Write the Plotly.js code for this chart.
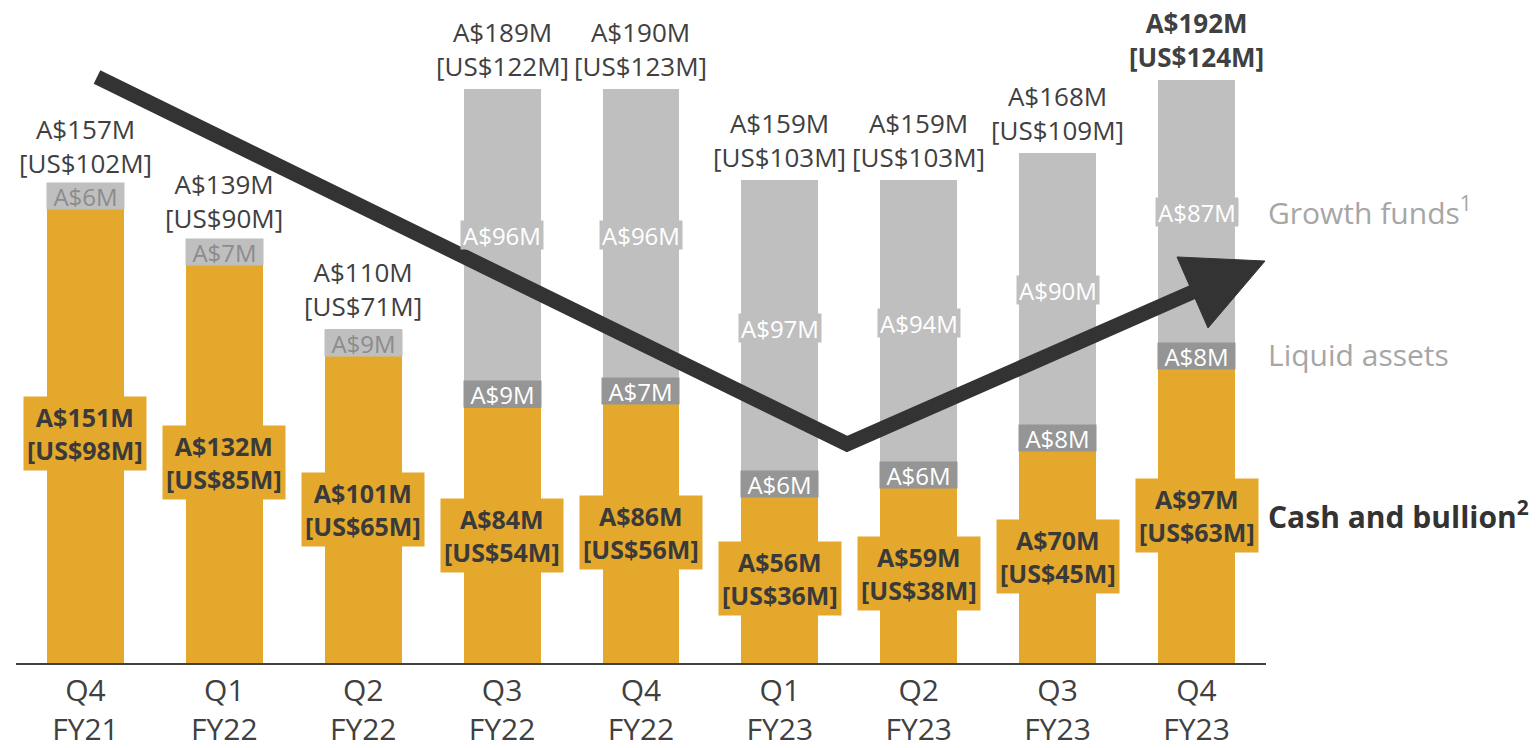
<!DOCTYPE html>
<html>
<head>
<meta charset="utf-8">
<script src="https://cdn.plot.ly/plotly-3.0.1.min.js"></script>
<style>html,body{margin:0;padding:0;background:#fff;}#chart{width:1536px;height:748px;}</style>
</head>
<body>
<div id="chart"></div>
<script>
const categories = ['Q4<br>FY21','Q1<br>FY22','Q2<br>FY22','Q3<br>FY22','Q4<br>FY22','Q1<br>FY23','Q2<br>FY23','Q3<br>FY23','Q4<br>FY23'];
const cash = [151,132,101,84,86,56,59,70,97];
const liquid = [6,7,9,9,7,6,6,8,8];
const growth = [0,0,0,96,96,97,94,90,87];
const totalAUD = [157,139,110,189,190,159,159,168,192];
const totalUSD = [102,90,71,122,123,103,103,109,124];
const cashUSD = [98,85,65,54,56,36,38,45,63];

const GOLD = '#E3A82C', LIGHT = '#BFBFBF', DARK = '#959595', TXT = '#3A3A3A';
const FONT = 'Open Sans, sans-serif';

const liquidColors = liquid.map((v,i) => growth[i] > 0 ? DARK : LIGHT);

const traces = [
  {type:'bar', x:categories, y:cash, marker:{color:GOLD}, name:'Cash and bullion', hoverinfo:'skip'},
  {type:'bar', x:categories, y:liquid, marker:{color:liquidColors}, name:'Liquid assets', hoverinfo:'skip'},
  {type:'bar', x:categories, y:growth, marker:{color:LIGHT}, name:'Growth funds', hoverinfo:'skip'}
];

const ann = [];
categories.forEach((c,i) => {
  const top = cash[i] + liquid[i] + growth[i];
  const last = i === categories.length - 1;
  ann.push({x:c, y:top, xref:'x', yref:'y', yanchor:'bottom', yshift:3, showarrow:false,
    text: last ? '<b>A$'+totalAUD[i]+'M<br>[US$'+totalUSD[i]+'M]</b>' : 'A$'+totalAUD[i]+'M<br>[US$'+totalUSD[i]+'M]',
    font:{family:FONT, size:26, color:'#404040'}});
  ann.push({x:c, y:cash[i]/2, xref:'x', yref:'y', showarrow:false,
    text:'<b>A$'+cash[i]+'M<br>[US$'+cashUSD[i]+'M]</b>', bgcolor:GOLD, borderpad:3,
    font:{family:FONT, size:25, color:TXT}});
  const early = growth[i] === 0;
  ann.push({x:c, y:cash[i]+liquid[i]/2, xref:'x', yref:'y', showarrow:false,
    text:'A$'+liquid[i]+'M', bgcolor: early ? LIGHT : DARK, borderpad:2, width:73, height:22,
    font:{family:FONT, size:24, color: early ? '#8C8C8C' : '#FFFFFF'}});
  if (growth[i] > 0) {
    ann.push({x:c, y:cash[i]+liquid[i]+growth[i]/2, xref:'x', yref:'y', showarrow:false,
      text:'A$'+growth[i]+'M', bgcolor:LIGHT, borderpad:2, height:24,
      font:{family:FONT, size:24, color:'#FFFFFF'}});
  }
});

ann.push({x:1.0, y:0.682, xref:'paper', yref:'paper', xanchor:'left', yanchor:'middle', showarrow:false,
  text:'Growth funds<sup>1</sup>', font:{family:FONT, size:30, color:'#A6A6A6'}});
ann.push({x:1.0, y:0.4646, xref:'paper', yref:'paper', xanchor:'left', yanchor:'middle', showarrow:false,
  text:'Liquid assets', font:{family:FONT, size:30, color:'#A6A6A6'}});
ann.push({x:1.0, y:0.223, xref:'paper', yref:'paper', xanchor:'left', yanchor:'middle', showarrow:false,
  text:'<b>Cash and bullion<sup>2</sup></b>', font:{family:FONT, size:30, color:'#333333'}});

const shapes = [
  {type:'path', xref:'paper', yref:'paper', layer:'above',
   path:'M 0.0648 0.8839 L 0.6648 0.3303 L 0.9432 0.5611',
   line:{color:'#333333', width:15}},
  {type:'path', xref:'paper', yref:'paper', layer:'above',
   path:'M 0.9992 0.6063 L 0.9288 0.6124 L 0.9536 0.5053 Z',
   fillcolor:'#333333', line:{color:'#333333', width:1}}
];

const layout = {
  width:1536, height:748,
  margin:{l:16, r:270, t:0, b:85},
  paper_bgcolor:'#FFFFFF', plot_bgcolor:'#FFFFFF',
  barmode:'stack', bargap:0.446, showlegend:false,
  font:{family:FONT},
  xaxis:{type:'category', showline:true, linecolor:'#404040', linewidth:2, ticks:'', showgrid:false,
    zeroline:false, tickfont:{family:FONT, size:30, color:'#404040'}, fixedrange:true},
  yaxis:{range:[0,218.4], visible:false, showgrid:false, zeroline:false, fixedrange:true},
  annotations:ann, shapes:shapes
};

Plotly.newPlot('chart', traces, layout, {staticPlot:true, displayModeBar:false});
</script>
</body>
</html>
